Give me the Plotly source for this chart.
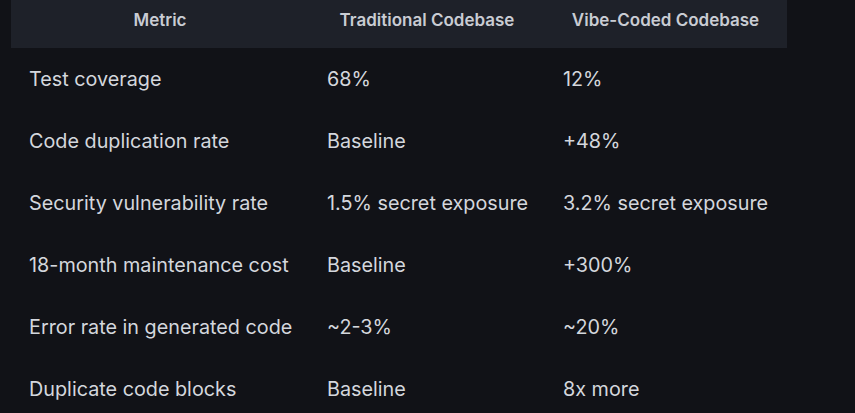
import plotly.graph_objects as go

W, H = 855, 413

# table content
headers = ["Metric", "Traditional Codebase", "Vibe-Coded Codebase"]
metrics = [
    "Test coverage",
    "Code duplication rate",
    "Security vulnerability rate",
    "18-month maintenance cost",
    "Error rate in generated code",
    "Duplicate code blocks",
]
traditional = ["68%", "Baseline", "1.5% secret exposure", "Baseline", "~2-3%", "Baseline"]
vibe_coded = ["12%", "+48%", "3.2% secret exposure", "+300%", "~20%", "8x more"]

BG = "#111217"
HEAD_BG = "#1e2129"
HEAD_TXT = "#c9ccd3"
BODY_TXT = "#d4d7dd"
CLEAR = "rgba(0,0,0,0)"

col_w = [298, 236, 241]
left, right = 11, 786
pad_col = W - right  # empty column out to the page edge
head_h = 48
row_h = 62
spacer = 20        # empty header used to push body rows down
first_row = 62.7   # px from top where first body row starts
head_txt_top = 5.5

fig = go.Figure()

# header band (no text)
fig.add_trace(go.Table(
    domain=dict(x=[left / W, 1], y=[1 - head_h / H, 1]),
    columnwidth=col_w + [pad_col],
    header=dict(
        values=["", "", "", ""],
        fill_color=[HEAD_BG, HEAD_BG, HEAD_BG, CLEAR],
        line_color=[HEAD_BG, HEAD_BG, HEAD_BG, CLEAR],
        height=head_h,
    ),
    cells=dict(values=[[], [], [], []]),
))

# header labels, laid over the band
fig.add_trace(go.Table(
    domain=dict(x=[left / W, 1], y=[1 - (head_h + 10) / H, 1 - head_txt_top / H]),
    columnwidth=col_w + [pad_col],
    header=dict(
        values=headers + [""],
        fill_color=CLEAR,
        line_color=CLEAR,
        align="center",
        height=36,
        font=dict(family="Inter", size=17, color=HEAD_TXT, weight=600),
    ),
    cells=dict(values=[[], [], [], []]),
))

# body rows, shifted right so the text gets its own padding
shift = 10
fig.add_trace(go.Table(
    domain=dict(x=[(left + shift) / W, 1], y=[0, 1 - (first_row - spacer) / H]),
    columnwidth=[col_w[0], col_w[1], col_w[2] + pad_col - shift],
    header=dict(values=["", "", ""], fill_color=CLEAR, line_color=CLEAR, height=spacer),
    cells=dict(
        values=[metrics, traditional, vibe_coded],
        fill_color=CLEAR,
        line_color=CLEAR,
        align="left",
        height=row_h,
        font=dict(family="Inter", size=19.8, color=BODY_TXT),
    ),
))

fig.update_layout(
    width=W,
    height=H,
    margin=dict(l=0, r=0, t=0, b=0),
    paper_bgcolor=BG,
    plot_bgcolor=BG,
)

fig.write_html(
    "out.html",
    config={"displayModeBar": False},
    post_script="document.body.style.margin='0';document.body.style.background='%s';" % BG,
)
